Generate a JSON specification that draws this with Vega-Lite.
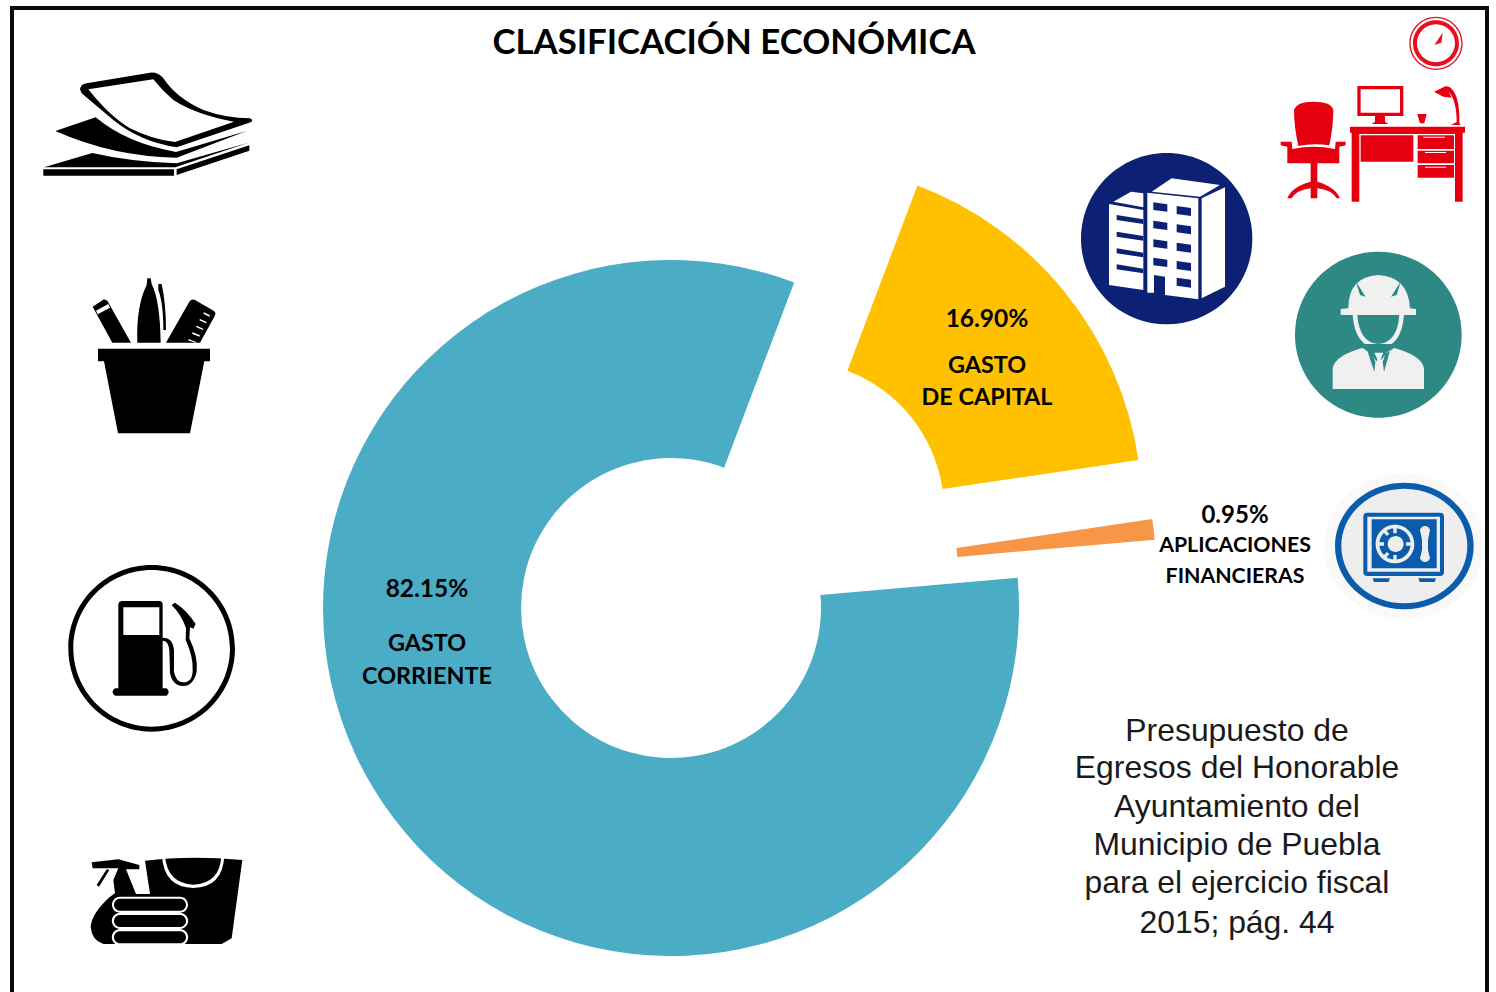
{
"$schema":"https://vega.github.io/schema/vega-lite/v6.json",
"width":1496,"height":992,"padding":0,
"autosize":{"type":"fit","contains":"padding"},
"background":"#ffffff",
"config":{"view":{"stroke":null}},
"resolve":{"scale":{"color":"independent"}},
"encoding":{
 "x":{"field":"x","type":"quantitative","axis":null,"scale":{"domain":[0,1496],"range":[0,1496],"nice":false,"zero":false}},
 "y":{"field":"y","type":"quantitative","axis":null,"scale":{"domain":[0,992],"range":[0,992],"nice":false,"zero":false}}
},
"layer":[
{"data":{"values":[{"x":12,"y":8,"x2":1487,"y2":8},{"x":12,"y":6,"x2":12,"y2":992},{"x":1487,"y":6,"x2":1487,"y2":992}]},
 "mark":{"type":"rule","stroke":"#0a0a0a","strokeWidth":4},
 "encoding":{"x2":{"field":"x2"},"y2":{"field":"y2"}}},
{"data":{"values":[
 {"clasificacion":"Gasto de capital","pct":16.90,"inicio":0,"fin":16.90,"x":794.2,"y":511},
 {"clasificacion":"Aplicaciones financieras","pct":0.95,"inicio":16.90,"fin":17.85,"x":808,"y":570},
 {"clasificacion":"Gasto corriente","pct":82.15,"inicio":17.85,"fin":100,"x":671,"y":608}
 ]},
 "mark":{"type":"arc","radius":348,"radius2":150},
 "encoding":{
  "theta":{"field":"inicio","type":"quantitative","stack":null,"scale":{"domain":[0,100],"range":[0.362,6.645]}},
  "theta2":{"field":"fin"},
  "color":{"field":"clasificacion","type":"nominal","legend":null,"scale":{"domain":["Gasto corriente","Gasto de capital","Aplicaciones financieras"],"range":["#4bacc6","#ffc000","#f79646"]}}
 }},
{"data":{"values":[
 {"parte":"papel","x":30,"y":60},
 {"parte":"maceta","x":30,"y":60},
 {"parte":"gasolina","x":50,"y":550},
 {"parte":"limpieza","x":50,"y":550},
 {"parte":"limpiezaBlanco","x":50,"y":550},
 {"parte":"reloj","x":1070,"y":0},
 {"parte":"oficina","x":1070,"y":0},
 {"parte":"edificioFondo","x":1070,"y":0},
 {"parte":"edificioBlanco","x":1070,"y":0},
 {"parte":"edificioVentanas","x":1070,"y":0},
 {"parte":"ingenieroFondo","x":1280,"y":240},
 {"parte":"ingeniero","x":1280,"y":240},
 {"parte":"ingenieroLineas","x":1280,"y":240},
 {"parte":"ingenieroCorbata","x":1280,"y":240},
 {"parte":"cajaHalo","x":1280,"y":240},
 {"parte":"cajaDisco","x":1280,"y":240},
 {"parte":"cajaAzul","x":1280,"y":240},
 {"parte":"cajaClaro","x":1280,"y":240}
 ]},
 "mark":{"type":"point","filled":true,"opacity":1,"size":0.4444,"strokeWidth":0},
 "encoding":{
  "shape":{"field":"parte","type":"nominal","legend":null,"scale":{
   "domain":["papel","maceta","gasolina","limpieza","limpiezaBlanco","reloj","oficina","edificioFondo","edificioBlanco","edificioVentanas","ingenieroFondo","ingeniero","ingenieroLineas","ingenieroCorbata","cajaHalo","cajaDisco","cajaAzul","cajaClaro"],
   "range":[
"M150 88Q152 72 170 70L360 38Q385 36 400 55Q440 115 520 150Q590 175 660 175Q672 180 662 187L440 262Q330 245 250 180Q190 130 155 100ZM175 88Q240 170 300 205Q370 240 435 246L612 185Q500 165 430 120Q395 90 370 58ZM76 213L197 172Q290 250 438 276L650 213L440 293Q250 290 76 213ZM42 322L187 279Q300 305 440 310L655 248L436 322ZM40 328L432 328L432 347L40 347ZM440 328L658 256L658 272L440 345Z",
"M204 866L540 866L540 904L523 904L480 1120L264 1120L222 904L204 904ZM188 740L222 718L232 722L303 848L247 848ZM198 752L203 763L240 743L235 732ZM322 848Q318 740 350 675L352 655L362 655L365 672Q390 720 392 848ZM385 672L395 672Q408 730 408 810L400 810Q400 730 385 690ZM408 848L478 725Q485 715 495 720L552 753Q560 760 553 770L510 848ZM522 757L520 761L538 770L540 766ZM510 777L508 781L528 790L530 786ZM500 797L498 801L518 810L520 806ZM488 817L486 821L508 830L510 826ZM476 837L474 841L496 848L498 846Z",
"M55 295A250 250 0 1 1 555 295A250 250 0 1 1 55 295ZM70 295A235 235 0 1 0 540 295A235 235 0 1 0 70 295ZM205 165Q205 153 218 153L328 153Q338 153 338 165L338 415L350 415Q362 426 350 437L195 437Q180 426 195 415L205 415ZM220 172L220 255L328 255L328 172ZM338 263Q368 262 372 300L372 365Q378 397 400 397Q428 397 428 360Q430 320 407 270L408 235Q395 195 365 165L375 158Q410 180 437 222L430 236L420 232L418 265Q445 320 440 365Q430 408 400 408Q368 408 360 370L358 300Q355 272 338 272Z",
"M285 932Q420 915 577 930L545 1165L515 1182L160 1182Q125 1170 122 1130Q125 1090 180 1040L195 1030L190 990L205 955L128 955L125 937L205 928L268 945L268 958L228 958L258 1032L300 1032ZM140 1005L170 958L178 960L147 1010Z",
"M336 918L345 918Q352 1000 430 1004Q510 1000 514 918L523 918Q518 1012 430 1014Q342 1012 336 918ZM210 1040L390 1040A24 24 0 0 1 390 1088L210 1088A24 24 0 0 1 210 1040ZM210 1046A18 18 0 0 0 210 1082L390 1082A18 18 0 0 0 390 1046ZM210 1088L390 1088A24 24 0 0 1 390 1137L210 1137A24 24 0 0 1 210 1088ZM210 1095A18 18 0 0 0 210 1131L390 1131A18 18 0 0 0 390 1095ZM210 1137L390 1137A24 24 0 0 1 390 1186L210 1186A24 24 0 0 1 210 1137ZM210 1144A18 18 0 0 0 210 1180L390 1180A18 18 0 0 0 390 1144Z",
"M1018 130A80 80 0 1 1 1178 130A80 80 0 1 1 1018 130ZM1022 130A76 76 0 1 0 1174 130A76 76 0 1 0 1022 130ZM1029 130A69 69 0 1 1 1167 130A69 69 0 1 1 1029 130ZM1041 130A57 57 0 1 0 1155 130A57 57 0 1 0 1041 130ZM1118 98L1093 135L1114 128Z",
"M672 330Q680 305 730 305Q785 305 790 330Q790 380 778 436Q730 428 685 438Q672 380 672 330ZM652 490L652 440L632 436L632 425L665 425L667 447Q730 434 795 447L797 425L827 425L827 436L808 440L808 490L742 490L742 545Q795 560 810 595L800 595Q785 570 742 565L742 595L722 595L722 565Q680 570 665 595L652 595Q665 560 722 545L722 490ZM862 258L1000 258L1000 348L862 348ZM872 268L872 338L990 338L990 268ZM915 348L945 348L945 365L955 372L905 372L915 365ZM1042 342L1070 342L1063 370L1050 370ZM1092 275L1128 258L1140 262Q1170 285 1168 368L1172 375L1143 375L1160 366Q1160 300 1136 275L1145 293L1120 290ZM840 380L1185 380L1185 398L1178 398L1178 605L1155 605L1155 402L868 402L868 605L845 605L845 398L840 398ZM872 406L1030 406L1030 485L872 485ZM1043 406L1152 406L1152 447L1043 447ZM1060 410L1060 413L1125 413L1125 410ZM1043 452L1152 452L1152 490L1043 490ZM1065 456L1065 459L1128 459L1128 456ZM1043 495L1152 495L1152 533L1043 533ZM1065 500L1065 503L1128 503L1128 500Z",
"M33 716A257 257 0 1 1 547 716A257 257 0 1 1 33 716Z",
"M117 612L220 630L220 870L117 855ZM130 605L183 575L220 580L220 622ZM232 578L385 595L385 898L285 885L285 830L252 825L252 878L232 878ZM245 575L305 535L450 555L390 590ZM395 595L465 562L465 860L395 895Z",
"M140 645L220 658L220 672L140 660ZM140 695L220 708L220 722L140 710ZM140 745L220 758L220 772L140 760ZM140 793L220 806L220 820L140 808ZM250 607L292 613L292 635L250 630ZM250 662L292 668L292 690L250 685ZM250 718L292 724L292 746L250 741ZM250 773L292 779L292 801L250 796ZM320 618L363 624L363 648L320 642ZM320 673L363 679L363 703L320 697ZM320 728L363 734L363 758L320 752ZM320 783L363 789L363 813L320 807ZM320 833L363 839L363 863L320 857Z",
"M45 284A250 249 0 1 1 545 284A250 249 0 1 1 45 284Z",
"M182 225L182 207L205 205Q205 110 295 105Q385 110 390 205L408 207L408 225L372 225Q365 322 295 325Q225 322 218 225ZM232 225Q238 308 295 312Q352 308 358 225ZM158 447L158 385Q165 345 255 322L295 370L335 322Q425 345 432 385L432 447Z",
"M228 125L257 170L240 165ZM362 125L333 170L350 165ZM262 332L283 395L286 365L272 332ZM330 332L312 395L308 365L320 332ZM245 322L295 358L345 322L345 312L245 312Z",
"M283 338L310 338L302 358L310 390L297 400L286 390L292 358Z",
"M132 918A240 218 0 1 1 612 918A240 218 0 1 1 132 918Z",
"M165 918A208 190 0 1 1 581 918A208 190 0 1 1 165 918Z",
"M165 918A208 190 0 1 1 581 918A208 190 0 1 1 165 918ZM184 918A189 172 0 1 0 562 918A189 172 0 1 0 184 918ZM250 830Q250 818 262 818L480 818Q492 818 492 830L492 996Q492 1008 480 1008L262 1008Q250 1008 250 996ZM262 830L262 995L480 995L480 830ZM275 838L470 838L470 985L275 985ZM278 1015L330 1015L326 1026L282 1026ZM415 1015L468 1015L464 1026L419 1026Z",
"M287 912A58 58 0 1 1 403 912A58 58 0 1 1 287 912ZM298 912A47 47 0 1 0 392 912A47 47 0 1 0 298 912ZM323 912A24 24 0 1 1 371 912A24 24 0 1 1 323 912ZM420 870Q424 858 435 858Q446 858 450 870L444 900L444 930L450 955Q446 966 435 966Q424 966 420 955L426 930L426 900ZM340 862L350 862L350 880L340 880ZM340 945L350 945L350 962L340 962ZM296 907L312 907L312 917L296 917ZM378 907L394 907L394 917L378 917ZM308 875L315 868L328 881L321 888ZM308 949L321 936L328 943L315 956Z"
   ]}},
  "color":{"field":"parte","type":"nominal","legend":null,"scale":{
   "domain":["papel","maceta","gasolina","limpieza","limpiezaBlanco","reloj","oficina","edificioFondo","edificioBlanco","edificioVentanas","ingenieroFondo","ingeniero","ingenieroLineas","ingenieroCorbata","cajaHalo","cajaDisco","cajaAzul","cajaClaro"],
   "range":["#000000","#000000","#000000","#000000","#ffffff","#e60f1f","#e6000f","#0c2174","#ffffff","#0c2174","#2e8985","#f0f0f0","#2e8985","#f0f0f0","#f9f9f9","#eeeeee","#0b5cad","#eeeeee"]}}
 }},
{"data":{"values":[{"texto":"CLASIFICACIÓN ECONÓMICA","x":734,"y":54}]},
 "mark":{"type":"text","font":"Lato","fontWeight":"bold","fontSize":34.8,"fill":"#000000","align":"center","baseline":"alphabetic"},
 "encoding":{"text":{"field":"texto"}}},
{"data":{"values":[
 {"texto":"16.90%","x":987,"y":327},{"texto":"82.15%","x":427,"y":597}
 ]},
 "mark":{"type":"text","font":"Lato","fontWeight":"bold","fontSize":24.5,"fill":"#000000","align":"center","baseline":"alphabetic"},
 "encoding":{"text":{"field":"texto"}}},
{"data":{"values":[
 {"texto":"GASTO","x":987,"y":373},{"texto":"DE CAPITAL","x":987,"y":405},
 {"texto":"GASTO","x":427,"y":651},{"texto":"CORRIENTE","x":427,"y":684}
 ]},
 "mark":{"type":"text","font":"Lato","fontWeight":"bold","fontSize":23.4,"fill":"#000000","align":"center","baseline":"alphabetic"},
 "encoding":{"text":{"field":"texto"}}},
{"data":{"values":[{"texto":"0.95%","x":1235,"y":523}]},
 "mark":{"type":"text","font":"Lato","fontWeight":"bold","fontSize":24,"fill":"#000000","align":"center","baseline":"alphabetic"},
 "encoding":{"text":{"field":"texto"}}},
{"data":{"values":[
 {"texto":"APLICACIONES","x":1235,"y":552},{"texto":"FINANCIERAS","x":1235,"y":583}
 ]},
 "mark":{"type":"text","font":"Lato","fontWeight":"bold","fontSize":21.3,"fill":"#000000","align":"center","baseline":"alphabetic"},
 "encoding":{"text":{"field":"texto"}}},
{"data":{"values":[
 {"texto":"Presupuesto de","x":1237,"y":741},{"texto":"Egresos del Honorable","x":1237,"y":778},{"texto":"Ayuntamiento del","x":1237,"y":817},
 {"texto":"Municipio de Puebla","x":1237,"y":855},{"texto":"para el ejercicio fiscal","x":1237,"y":893},{"texto":"2015; pág. 44","x":1237,"y":933}
 ]},
 "mark":{"type":"text","font":"Liberation Sans","fontSize":31.9,"fill":"#1a1a1a","align":"center","baseline":"alphabetic"},
 "encoding":{"text":{"field":"texto"}}}
]
}
